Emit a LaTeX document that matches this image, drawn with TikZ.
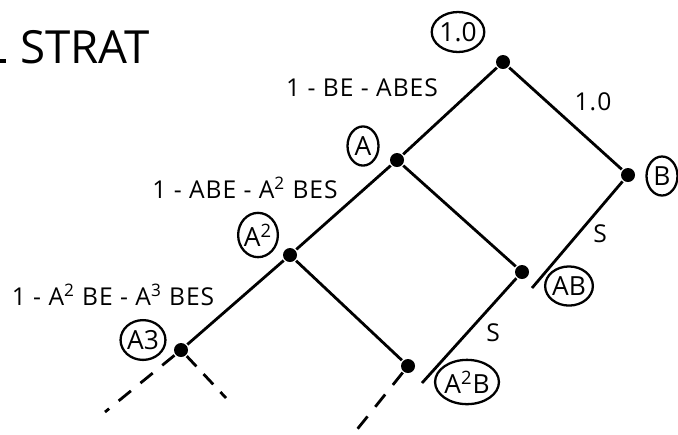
\documentclass[tikz,border=0pt]{standalone}
\usepackage{fontspec}
\setmainfont{Open Sans}
\usetikzlibrary{positioning,shapes.geometric}

\begin{document}
\begin{tikzpicture}[x=0.02cm, y=-0.02cm, line width=1.6pt,
    dot/.style={circle, fill=black, inner sep=0pt, minimum size=0.28cm},
    tag/.style={ellipse, draw, line width=1.3pt, inner xsep=0pt, inner ysep=2.5pt, minimum width=0.62cm, font=\fontsize{15}{17}\selectfont},
    lbl/.style={font=\fontsize{14}{16}\selectfont\addfontfeatures{LetterSpace=4}},
    future/.style={dash pattern=on 9pt off 7pt}]
    \useasboundingbox (0,0) rectangle (678,434);
    % title (first letter cut off at the edge)
    \draw[line width=1.8pt] (0,61) -- (6,61);
    \node[font=\fontsize{26}{30}\selectfont] (title) at (85,47) {STRAT};
    % states
    \node[dot] (top) at (503,62) {};
    \node[dot] (a1) at (397,160) {};
    \node[dot] (a2) at (290,255) {};
    \node[dot] (a3) at (181,350) {};
    \node[dot] (b) at (628,175) {};
    \node[dot] (ab) at (522,272) {};
    \node[dot] (aab) at (408,366) {};
    \coordinate (sab) at (532,288);
    \coordinate (saab) at (422,383);
    \coordinate (d1) at (105,412);
    \coordinate (d2) at (226,398);
    \coordinate (d3) at (355,432);
    % transitions
    \draw (a3) -- (a2) -- (a1) -- (top) -- (b);
    \draw (a1) -- (ab);
    \draw (a2) -- (aab);
    \draw (b) -- (sab);
    \draw (ab) -- (saab);
    \draw[future] (a3) -- (d1);
    \draw[future, dash pattern=on 8pt off 6pt] (a3) -- (d2);
    \draw[future] (aab) -- (d3);
    % circled state tags
    \node[tag] (ttop) at (458,32) {1.0};
    \node[tag] (ta1) at (363,146) {A};
    \node[tag] (ta2) at (258,235) {A\textsuperscript{2}};
    \node[tag] (ta3) at (143,340) {A3};
    \node[tag] (tb) at (662,176) {B};
    \node[tag] (tab) at (569,286) {AB};
    \node[tag] (taab) at (467,382) {A\textsuperscript{2}B};
    % edge labels
    \node[lbl] (l1) at (362,88) {1 - BE - ABES};
    \node[lbl] (l2) at (245,188) {1 - ABE - A\textsuperscript{2} BES};
    \node[lbl] (l3) at (113,295) {1 - A\textsuperscript{2} BE - A\textsuperscript{3} BES};
    \node[lbl] (l4) at (593,102) {1.0};
    \node[lbl] (s1) at (600,234) {S};
    \node[lbl] (s2) at (493,333) {S};
  \end{tikzpicture}
\end{document}
